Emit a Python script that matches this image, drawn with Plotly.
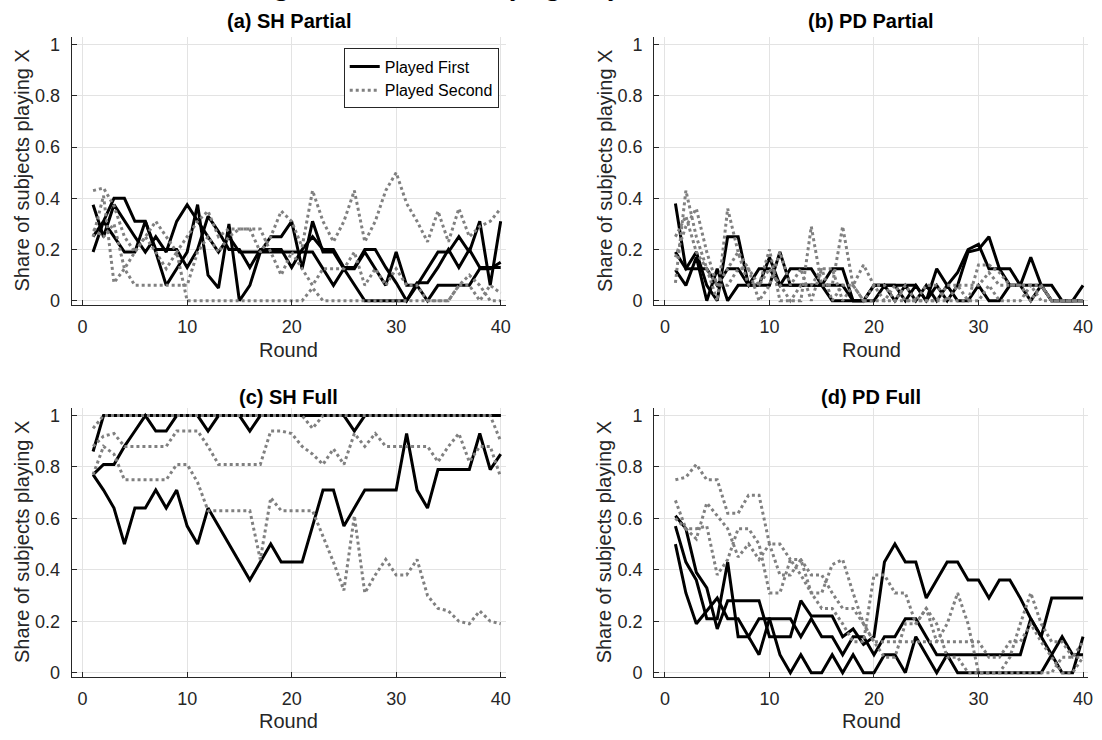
import plotly.graph_objects as go

rounds = list(range(1, 41))

# (a) SH Partial
a_first = [
    [0.375,0.25,0.375,0.31,0.25,0.19,0.25,0.19,0.31,0.375,0.31,0.25,0.19,0.25,0.19,0.19,0.19,0.25,0.25,0.31,0.125,0.31,0.19,0.19,0.125,0.125,0.19,0.125,0.06,0.19,0.06,0.06,0.125,0.19,0.19,0.25,0.19,0.31,0.06,0.31],
    [0.25,0.31,0.4,0.4,0.31,0.31,0.2,0.2,0.2,0.13,0.2,0.33,0.27,0.2,0.2,0.13,0.2,0.2,0.2,0.13,0.2,0.25,0.2,0.2,0.13,0.13,0.2,0.2,0.13,0.07,0.0,0.07,0.07,0.13,0.2,0.13,0.2,0.13,0.13,0.13],
    [0.19,0.31,0.25,0.19,0.19,0.31,0.19,0.06,0.125,0.19,0.375,0.1,0.05,0.3,0.0,0.06,0.19,0.19,0.19,0.19,0.19,0.19,0.125,0.06,0.125,0.06,0.0,0.0,0.0,0.0,0.0,0.06,0.0,0.06,0.06,0.06,0.06,0.125,0.125,0.15],
]
a_second = [
    [0.43,0.44,0.37,0.25,0.19,0.25,0.31,0.25,0.19,0.25,0.31,0.35,0.25,0.28,0.28,0.28,0.19,0.25,0.35,0.31,0.21,0.43,0.31,0.23,0.31,0.43,0.23,0.31,0.43,0.5,0.38,0.31,0.23,0.35,0.23,0.36,0.25,0.29,0.31,0.36],
    [0.28,0.25,0.3,0.125,0.06,0.06,0.06,0.06,0.06,0.06,0.19,0.25,0.19,0.25,0.28,0.28,0.28,0.19,0.1,0.19,0.125,0.06,0.125,0.125,0.125,0.19,0.06,0.125,0.06,0.125,0.06,0.06,0.0,0.0,0.0,0.06,0.06,0.0,0.06,0.03],
    [0.25,0.41,0.07,0.125,0.19,0.25,0.19,0.125,0.19,0.0,0.0,0.0,0.0,0.0,0.0,0.0,0.0,0.0,0.0,0.0,0.0,0.05,0.0,0.0,0.0,0.0,0.0,0.0,0.0,0.0,0.0,0.0,0.0,0.0,0.0,0.06,0.1,0.06,0.0,0.0],
]

# (b) PD Partial
b_first = [
    [0.38,0.125,0.125,0.125,0.06,0.125,0.125,0.06,0.125,0.125,0.06,0.125,0.125,0.125,0.06,0.06,0.06,0.0,0.0,0.06,0.06,0.06,0.06,0.06,0.0,0.06,0.0,0.06,0.19,0.2,0.25,0.125,0.125,0.06,0.17,0.06,0.0,0.0,0.0,0.06],
    [0.19,0.125,0.19,0.06,0.0,0.25,0.25,0.06,0.06,0.06,0.19,0.06,0.06,0.06,0.06,0.125,0.125,0.0,0.0,0.06,0.06,0.06,0.0,0.06,0.0,0.125,0.06,0.11,0.2,0.22,0.125,0.125,0.06,0.06,0.0,0.06,0.06,0.0,0.0,0.0],
    [0.12,0.06,0.17,0.0,0.125,0.0,0.06,0.06,0.06,0.17,0.06,0.06,0.06,0.06,0.06,0.0,0.0,0.0,0.0,0.0,0.06,0.0,0.06,0.0,0.06,0.0,0.06,0.0,0.0,0.06,0.0,0.0,0.06,0.06,0.06,0.06,0.0,0.0,0.0,0.0],
]
b_second = [
    [0.07,0.43,0.25,0.125,0.0,0.36,0.19,0.06,0.06,0.2,0.0,0.0,0.0,0.29,0.06,0.06,0.29,0.06,0.14,0.06,0.0,0.0,0.0,0.0,0.06,0.06,0.0,0.0,0.0,0.14,0.14,0.11,0.06,0.06,0.06,0.0,0.0,0.0,0.0,0.0],
    [0.17,0.29,0.36,0.19,0.06,0.125,0.19,0.125,0.0,0.06,0.19,0.06,0.125,0.0,0.125,0.125,0.0,0.06,0.0,0.06,0.06,0.0,0.06,0.0,0.0,0.0,0.0,0.06,0.06,0.06,0.11,0.06,0.06,0.06,0.0,0.06,0.0,0.0,0.0,0.0],
    [0.25,0.33,0.19,0.125,0.06,0.06,0.125,0.125,0.06,0.125,0.06,0.0,0.06,0.06,0.125,0.0,0.06,0.06,0.0,0.0,0.0,0.06,0.0,0.0,0.0,0.0,0.06,0.06,0.0,0.0,0.06,0.0,0.0,0.0,0.06,0.06,0.0,0.0,0.0,0.0],
]

# (c) SH Full
c_first = [
    [0.86,1,1,1,1,1,1,1,1,1,1,1,1,1,1,1,1,1,1,1,1,1,1,1,1,1,1,1,1,1,1,1,1,1,1,1,1,1,1,1],
    [0.77,0.81,0.81,0.88,0.94,1,0.94,0.94,1,1,1,0.94,1,1,1,0.94,1,1,1,1,1,1,1,1,1,0.94,1,1,1,1,1,1,1,1,1,1,1,1,1,1],
    [0.77,0.71,0.64,0.5,0.64,0.64,0.71,0.64,0.71,0.57,0.5,0.64,0.57,0.5,0.43,0.36,0.43,0.5,0.43,0.43,0.43,0.57,0.71,0.71,0.57,0.64,0.71,0.71,0.71,0.71,0.93,0.71,0.64,0.79,0.79,0.79,0.79,0.93,0.79,0.85],
]
c_second = [
    [0.95,1,1,1,1,1,1,1,1,1,1,1,1,1,1,1,1,1,1,1,1,0.95,1,1,1,1,1,1,1,1,1,1,1,1,1,1,1,1,1,0.9],
    [0.88,0.92,0.93,0.88,0.88,0.88,0.88,0.88,0.94,0.94,0.94,0.88,0.81,0.81,0.81,0.81,0.81,0.94,0.94,0.93,0.88,0.85,0.81,0.87,0.81,0.93,0.88,0.93,0.88,0.88,0.88,0.88,0.88,0.82,0.88,0.93,0.82,0.88,0.88,0.76],
    [0.77,0.88,0.85,0.75,0.75,0.75,0.75,0.75,0.81,0.81,0.74,0.63,0.63,0.63,0.63,0.63,0.44,0.68,0.63,0.63,0.63,0.63,0.53,0.43,0.32,0.61,0.31,0.38,0.44,0.38,0.38,0.44,0.3,0.25,0.24,0.2,0.19,0.24,0.2,0.19],
]

# (d) PD Full
d_first = [
    [0.61,0.56,0.39,0.33,0.17,0.28,0.28,0.28,0.28,0.14,0.14,0.14,0.28,0.22,0.22,0.22,0.14,0.17,0.11,0.14,0.43,0.5,0.43,0.43,0.29,0.36,0.43,0.43,0.36,0.36,0.29,0.36,0.36,0.29,0.21,0.14,0.29,0.29,0.29,0.29],
    [0.57,0.43,0.36,0.21,0.21,0.43,0.14,0.14,0.07,0.21,0.21,0.21,0.14,0.21,0.14,0.14,0.07,0.14,0.14,0.07,0.14,0.14,0.21,0.21,0.14,0.07,0.07,0.07,0.07,0.07,0.07,0.07,0.07,0.07,0.21,0.14,0.07,0.0,0.0,0.14],
    [0.5,0.31,0.19,0.24,0.29,0.21,0.21,0.14,0.21,0.21,0.07,0.0,0.07,0.0,0.0,0.07,0.0,0.07,0.0,0.0,0.07,0.07,0.0,0.14,0.07,0.0,0.07,0.0,0.0,0.0,0.0,0.0,0.0,0.0,0.0,0.0,0.07,0.14,0.07,0.07],
]
d_second = [
    [0.75,0.76,0.81,0.75,0.75,0.62,0.62,0.69,0.69,0.5,0.5,0.44,0.44,0.38,0.38,0.31,0.25,0.25,0.19,0.12,0.12,0.12,0.12,0.12,0.12,0.12,0.12,0.12,0.12,0.12,0.06,0.06,0.12,0.12,0.19,0.12,0.06,0.0,0.0,0.06],
    [0.67,0.56,0.52,0.66,0.61,0.56,0.45,0.5,0.44,0.5,0.38,0.38,0.44,0.31,0.25,0.25,0.19,0.12,0.12,0.38,0.38,0.31,0.31,0.19,0.25,0.12,0.19,0.31,0.19,0.0,0.0,0.0,0.06,0.19,0.31,0.19,0.12,0.12,0.06,0.06],
    [0.6,0.56,0.56,0.57,0.38,0.44,0.56,0.56,0.5,0.31,0.31,0.44,0.38,0.31,0.31,0.42,0.44,0.31,0.19,0.12,0.06,0.06,0.19,0.19,0.25,0.19,0.06,0.06,0.0,0.0,0.0,0.0,0.0,0.0,0.0,0.0,0.0,0.06,0.06,0.12],
]

panel_titles = ["(a) SH Partial", "(b) PD Partial", "(c) SH Full", "(d) PD Full"]
legend_names = ["Played First", "Played Second"]
x_tickvals = [0, 10, 20, 30, 40]
y_tickvals = [0, 0.2, 0.4, 0.6, 0.8, 1]
y_ticktext = ["0", "0.2", "0.4", "0.6", "0.8", "1"]
x_title = "Round"
y_title = "Share of subjects playing X"
fig_title = "Figure C.3: Rate of Playing X by Session and Order"

W, H = 1102, 740
FONT = "Liberation Sans, Arial, Helvetica, sans-serif"
TXT = "#262626"

# pixel boxes of the four axes (left, right, top, bottom) and title / x-label centres
boxes = [(72, 508, 35, 306), (657, 1093, 35, 306), (72, 508, 410, 682), (657, 1093, 410, 682)]
title_y = [19, 19, 399, 399]
label_y = [352, 352, 727, 727]
panels = [(a_first, a_second), (b_first, b_second), (c_first, c_second), (d_first, d_second)]

fig = go.Figure()
shown = [False, False]
for i, (firsts, seconds) in enumerate(panels):
    ax = "" if i == 0 else str(i + 1)
    for s in firsts:
        fig.add_trace(go.Scatter(x=rounds, y=s, mode="lines", xaxis="x" + ax, yaxis="y" + ax,
                                 line=dict(color="#000000", width=3), name=legend_names[0],
                                 legendgroup="first", showlegend=not shown[0]))
        shown[0] = True
    for s in seconds:
        fig.add_trace(go.Scatter(x=rounds, y=s, mode="lines", xaxis="x" + ax, yaxis="y" + ax,
                                 line=dict(color="#808080", width=3, dash="dot"), name=legend_names[1],
                                 legendgroup="second", showlegend=not shown[1]))
        shown[1] = True

layout = dict(
    width=W, height=H, margin=dict(l=0, r=0, t=0, b=0),
    paper_bgcolor="white", plot_bgcolor="white",
    font=dict(family=FONT, color=TXT, size=18),
    legend=dict(x=501 / W, y=1 - 47 / H, xanchor="right", yanchor="top",
                bgcolor="white", bordercolor="#262626", borderwidth=1,
                font=dict(size=16, color="#000000"), tracegroupgap=0),
)
annotations = []
for i, (l, r, t, b) in enumerate(boxes):
    ax = "" if i == 0 else str(i + 1)
    xa = dict(domain=[l / W, r / W], range=[-1.048, 40.48], tickvals=x_tickvals,
              showgrid=True, gridcolor="#e3e3e3", gridwidth=1, zeroline=False,
              showline=True, linecolor=TXT, linewidth=1, ticks="inside", ticklen=5,
              tickcolor=TXT, tickfont=dict(size=18, color=TXT), ticklabelstandoff=6,
              anchor="y" + ax)
    ya = dict(domain=[1 - b / H, 1 - t / H], range=[-0.0154, 1.031], tickvals=y_tickvals,
              ticktext=y_ticktext, showgrid=True, gridcolor="#e3e3e3", gridwidth=1, zeroline=False,
              showline=True, linecolor=TXT, linewidth=1, ticks="inside", ticklen=5,
              tickcolor=TXT, tickfont=dict(size=18, color=TXT), ticklabelstandoff=7,
              anchor="x" + ax)
    layout["xaxis" + ax] = xa
    layout["yaxis" + ax] = ya
    cx = (l + r) / 2
    annotations.append(dict(text="<b>" + panel_titles[i] + "</b>", x=cx / W, y=1 - title_y[i] / H,
                            xref="paper", yref="paper", xanchor="center", yanchor="middle",
                            showarrow=False, font=dict(size=20, color="#000000")))
    annotations.append(dict(text=x_title, x=cx / W, y=1 - label_y[i] / H,
                            xref="paper", yref="paper", xanchor="center", yanchor="middle",
                            showarrow=False, font=dict(size=20, color=TXT)))
    annotations.append(dict(text=y_title, x=(l - 50) / W, y=1 - ((t + b) / 2) / H,
                            xref="paper", yref="paper", xanchor="center", yanchor="middle",
                            textangle=-90, showarrow=False, font=dict(size=20, color=TXT)))
annotations.append(dict(text=fig_title, x=545 / W, y=1 + 17 / H, xref="paper", yref="paper",
                        xanchor="center", yanchor="middle", showarrow=False,
                        font=dict(family="Liberation Serif, Times New Roman, serif", size=28, color="#000000")))
layout["annotations"] = annotations

fig.update_layout(**layout)
fig.write_html("out.html", config={"displayModeBar": False},
               post_script="document.body.style.margin='0';document.body.style.overflow='hidden';")
